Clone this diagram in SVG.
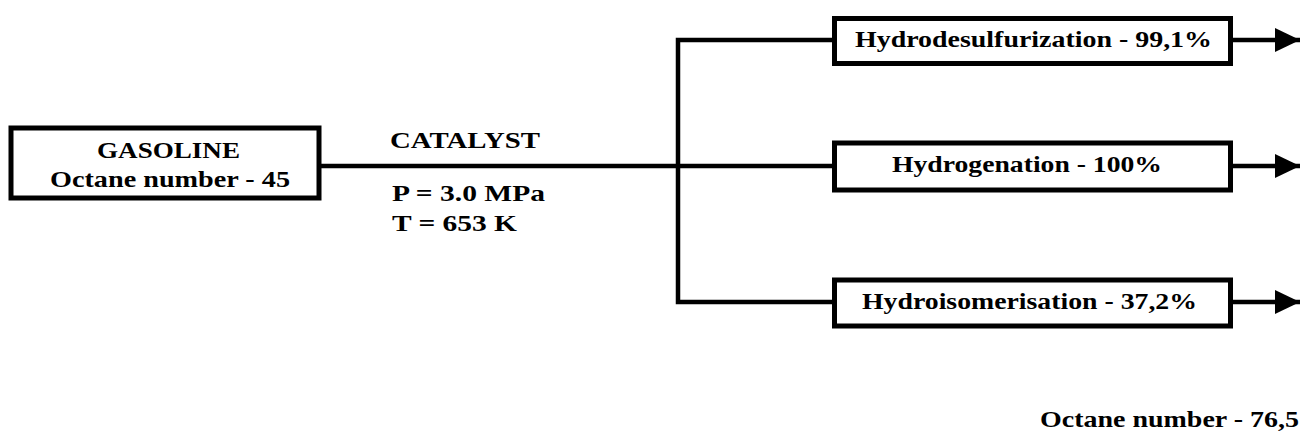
<svg xmlns="http://www.w3.org/2000/svg" width="1302" height="435" viewBox="0 0 1302 435">
<style>
.box{fill:#fff;stroke:#000;stroke-width:5}
.ln{fill:none;stroke:#000;stroke-width:4.5}
text{font-weight:bold;font-size:23px;fill:#000}
</style>
<defs>
<marker id="ah" markerUnits="userSpaceOnUse" markerWidth="26" markerHeight="24" refX="25" refY="12" orient="auto">
<path d="M0,0 L25,12 L0,24 Z" fill="#000"/>
</marker>
</defs>
<rect width="1302" height="435" fill="#fff"/>
<g id="connectors">
<path class="ln" d="M321,166 H678"/>
<path class="ln" d="M832,40 H678 V302 H832"/>
<path class="ln" d="M678,166 H832"/>
<path class="ln" d="M1231,40 H1300" marker-end="url(#ah)"/>
<path class="ln" d="M1231,166 H1300" marker-end="url(#ah)"/>
<path class="ln" d="M1231,302 H1300" marker-end="url(#ah)"/>
</g>
<g font-family="Liberation Serif, Times New Roman, Tinos, Noto Serif, DejaVu Serif, serif">
<g id="gasoline">
<rect class="box" x="11" y="128" width="308" height="70"/>
<text x="97" y="158" textLength="143" lengthAdjust="spacingAndGlyphs">GASOLINE</text>
<text x="50" y="187" textLength="240" lengthAdjust="spacingAndGlyphs">Octane number - 45</text>
</g>
<g id="conditions">
<text x="390" y="148" textLength="150" lengthAdjust="spacingAndGlyphs">CATALYST</text>
<text x="392" y="201" textLength="153" lengthAdjust="spacingAndGlyphs">P = 3.0 MPa</text>
<text x="392" y="231" textLength="125" lengthAdjust="spacingAndGlyphs">T = 653 K</text>
</g>
<g id="hydrodesulfurization">
<rect class="box" x="834.5" y="18.5" width="396" height="45"/>
<text x="855" y="47" textLength="357" lengthAdjust="spacingAndGlyphs">Hydrodesulfurization - 99,1%</text>
</g>
<g id="hydrogenation">
<rect class="box" x="834.5" y="143" width="396" height="47"/>
<text x="892" y="172" textLength="270" lengthAdjust="spacingAndGlyphs">Hydrogenation - 100%</text>
</g>
<g id="hydroisomerisation">
<rect class="box" x="834.5" y="280" width="396" height="46"/>
<text x="862" y="309" textLength="335" lengthAdjust="spacingAndGlyphs">Hydroisomerisation - 37,2%</text>
</g>
<g id="result">
<text x="1040" y="427" textLength="259" lengthAdjust="spacingAndGlyphs">Octane number - 76,5</text>
</g>
</g>
</svg>
